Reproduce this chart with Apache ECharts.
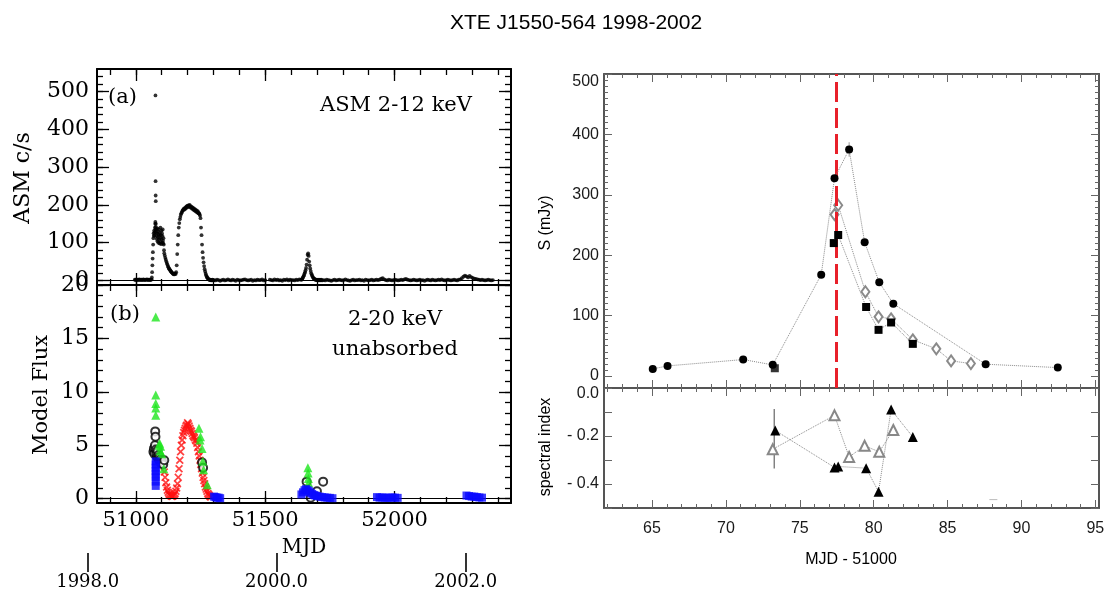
<!DOCTYPE html>
<html><head><meta charset="utf-8">
<script src="https://cdn.jsdelivr.net/npm/echarts@6/dist/echarts.min.js"></script>
<style>html,body{margin:0;padding:0;background:#fff}#c{width:1120px;height:592px}</style>
</head><body><div id="c"></div>
<script>
// ---------------- DATA ----------------
// Panel (a): RXTE/ASM 2-12 keV count rate (c/s) vs MJD
const asmPreStart = 50996, asmPreStep = 3;
const asmPre = [2,1,3,2,1,2,3,1,2,2,1,3,2,1,2,2,3,1,2,2,1,2];
const asmRiseStart = 51061, asmRiseStep = 1;
const asmRise = [3,8,22,40,58,75,95,112,125,118,
  132,120,128,140,150,135,142,128,118,136,
  110,125,138,104,115,130,100,122,135,108,
  118,98,126,112,140,102,120,96,132,110,
  125,100,118,135,105,98,112,95,80,72];
const asmFlareMjd = [51075.5, 51076.0, 51076.4, 51076.7, 51077.0, 51077.4];
const asmFlareVal = [155, 490, 263, 225, 210, 150];
const asmHumpStart = 51112, asmHumpStep = 2;
const asmHump = [66,60,55,50,46,42,38,35,32,30,
  28,26,24,22,21,19,18,17,16,18,
  19,17,22,40,70,95,120,140,152,162,
  168,174,178,181,184,186,188,190,188,192,
  190,194,196,193,198,195,199,196,200,194,
  197,192,195,190,193,188,191,186,189,184,
  187,182,185,180,183,178,178,176,172,165,
  140,120,95,75,60,48,38,30,24,18,
  14,10,8,6,4,3,2,1,2,1,
  0,1,2,1,0];
const asmQuiet1Start = 51302, asmQuiet1Step = 6;
const asmQuiet1 = [1,0,2,1,-1,1,2,0,1,3, 1,0,2,1,-1,2,1,0,1,2, 3,1,0,1,2,-1,1,0,2,1,
  1,3,0,1,null,null,2,1,0,3, 1,2,0,1,-1,2,1,3,0,2, 1,1,0,2,1,3,2];
const asm2000Start = 51640, asm2000Step = 2;
const asm2000 = [2,3,5,8,11,14,18,22,27,33, 42,55,68,72,65,50,40,32,25,19,
  15,12,9,7,5,4,3,2,2,1, 2,1,0,1,2,1,0,1,2,1, 0];
const asmQuiet2Start = 51726, asmQuiet2Step = 6;
const asmQuiet2 = [1,0,2,1,0,-1,1,2,0,1, 2,1,0,1,3,1,0,-1,1,2, 0,1,1,2,0,1,-1,2,1,0,
  1,2,0,1,2,1,2,5,6,3, 1,0,2,1,0,1,2,1,0,1, 2,1,3,4,2,1,0,1,2,1,
  0,1,2,0,1,-1,1,2,1,0, 2,1,0,1,2,1,3,1,0,1, 2,1,0,1,2,1,0,2,3,6,
  10,13,11,8,12,9,7,5,4,3, 2,1,2,1,0,1,2,1,0,1];

// Panel (b): model flux, 2-20 keV unabsorbed
const greenMjd  = [51077,51077,51077,51077,51077, 51090,51092,51094,51096,51100,51108,
  51244,51248,51250,51256,51259,51262,51276, 51665,51666,51667,51668];
const greenFlux = [17.0,9.7,8.9,8.5,7.8, 5.0,5.2,4.5,4.9,4.2,2.8,
  6.6,5.5,5.8,4.7,3.5,2.7,1.3, 2.9,2.4,1.9,1.5];
const circMjd  = [51068,51070,51072,51074,51075,51076,51078,51080,51082,51084,51086,51088,51090,
  51092,51094,51096,51098,51100,51103,51106,51110, 51256,51260, 51660,51676,51700,51724];
const circFlux = [4.4,4.7,4.2,5.0,6.3,5.8,4.6,4.2,3.9,4.5,3.8,4.1,3.6,
  3.9,3.5,3.7,3.3,3.6,3.4,3.2,3.6, 3.4,2.9, 1.6,0.1,0.7,1.6];
const redStart = 51110, redStep = 3;
const redFlux = [2.5,2.0,1.5,1.1,0.8,0.6,0.45,0.35,0.3,0.25,
  0.2,0.25,0.3,0.4,0.5,0.7,1.0,1.4,2.0,2.8,
  3.6,4.4,5.0,5.5,5.9,6.2,6.4,6.6,6.8,6.9,
  7.1,7.0,6.8,6.6,6.4,6.3,6.1,5.9,5.8,5.7,
  5.5,5.4,5.2,4.8,4.4,4.0,3.6,3.2,2.8,2.4,
  2.0,1.7,1.4,1.1,0.9,0.7,0.5,0.4,0.3,0.2,0.15];
const blueMjd  = [51077,51077,51077,51077,51077,51077,51077,51077,
  51302,51308,51314,51320,51326,
  51640,51646,51652,51658,51664,51670,51676,51682,51688,51694,51700,51710,51720,51730,51740,51750,51760,
  51932,51942,51952,51962,51972,51982,51992,52002,52012,
  52278,52288,52298,52308,52318,52328,52338];
const blueFlux = [3.5,3.2,2.9,2.6,2.3,2.0,1.6,1.2,
  0.2,0.15,0.1,0.1,0.05,
  0.4,0.6,0.8,0.9,0.8,0.7,0.55,0.45,0.35,0.3,0.25,0.2,0.15,0.12,0.1,0.08,0.05,
  0.15,0.1,0.12,0.1,0.08,0.1,0.12,0.1,0.08,
  0.3,0.25,0.2,0.2,0.15,0.12,0.1];

// Year axis
const yearMjd = [50814, 51544, 52275];
const yearLabels = ['1998.0', '2000.0', '2002.0'];
const mjdTickLabels = [51000, 51500, 52000];

// Right: radio flux density S (mJy) vs MJD-51000
const circX = [65.05,66.05,71.17,73.17,76.45,77.35,78.34,79.39,80.38,81.33,87.58,92.46];
const circS = [11.6,16.6,27.1,18.3,167.6,327.5,375,221.3,155,119.5,19.4,13.8];
const sqLoneX = [73.31], sqLoneS = [12.7];
const sqX = [77.3,77.6,79.49,80.33,81.18,82.65];
const sqS = [220,233.4,114.1,76.3,88.5,53.1];
const diaX = [77.35,77.6,79.44,80.33,81.18,82.65,84.24,85.24,86.58];
const diaS = [267.2,282.7,139.4,97.9,94.6,59.8,44.8,24.9,20.5];
const peakErrX = [78.34,78.34], peakErrS = [363,387];
const flareLineX = 77.5;
// Right bottom: spectral index
const triFX = [73.34,77.35,77.6,79.49,80.33,81.18,82.65];
const triFY = [-0.177,-0.331,-0.327,-0.334,-0.432,-0.090,-0.204];
const triOX = [73.17,77.35,78.34,79.39,80.38,81.33];
const triOY = [-0.255,-0.114,-0.287,-0.241,-0.266,-0.175];
const idxErrX = [73.27,73.27], idxErrY = [-0.087,-0.335];
const dashX = [88.1], dashY = [-0.465];

// ---------------- helpers ----------------
function seq(start, step, vals){ const r=[]; vals.forEach((v,i)=>{ if(v!==null) r.push([start+i*step, v]); }); return r; }
function pairs(xs, ys){ return xs.map((x,i)=>[x, ys[i]]); }
function range(a,b,s){ const r=[]; for(let k=0; a+k*s<=b+1e-9; k++) r.push(+(a+k*s).toFixed(6)); return r; }

const SERIF = '"DejaVu Serif", "Liberation Serif", serif';
const SANS = '"Liberation Sans", Arial, sans-serif';

const xAxes = [], yAxes = [];
function addSet(arr, dim, gi, min, max, majors, minors, st, label){
  const idx = arr.length;
  const pos = dim === 'x' ? ['bottom','top'] : ['left','right'];
  pos.forEach((p, pi) => {
    [true,false].forEach(isMajor => {
      const vals = isMajor ? majors : minors;
      const lab = (pi===0 && isMajor && label) ? Object.assign({show:true}, label) : {show:false};
      arr.push({
        type:'value', gridIndex:gi, position:p, min:min, max:max, scale:true,
        axisLine:{show:isMajor, onZero:false, lineStyle:{color:st.lineColor, width:st.lineWidth}},
        axisTick:{show: vals.length>0, inside:true, length: isMajor?st.majorLen:st.minorLen,
          customValues: vals, lineStyle:{color:st.tickColor, width:st.tickWidth}},
        axisLabel: lab,
        splitLine:{show:false}, minorTick:{show:false}, axisPointer:{show:false}
      });
    });
  });
  return idx;
}

const leftSt = {lineColor:'#000', lineWidth:2, tickColor:'#000', tickWidth:1.3, majorLen:12, minorLen:6};
const rightSt = {lineColor:'#555', lineWidth:2, tickColor:'#666', tickWidth:1, majorLen:8, minorLen:4};

const grids = [
  {left:97, top:69, width:414, height:216},
  {left:97, top:285, width:414, height:218},
  {left:45.25, top:540, width:465.75, height:13},
  {left:604, top:74, width:495, height:314},
  {left:604, top:388, width:495, height:120}
].map(g => Object.assign({outerBoundsMode:'none', containLabel:false}, g));

const MJD_MIN = 50850, MJD_MAX = 52450;
const mjdMinor = range(50900, 52400, 100);
const plain = v => String(v);
const leftLab = {fontFamily:SERIF, fontSize:22, color:'#000', margin:8, formatter:plain};

// (a)
const axAx = addSet(xAxes,'x',0,MJD_MIN,MJD_MAX,mjdTickLabels,mjdMinor,leftSt,null);
const axAy = addSet(yAxes,'y',0,-12,560,range(0,500,100),range(0,540,20),leftSt,
  Object.assign({customValues:range(0,500,100)}, leftLab));
// (b)
const axBx = addSet(xAxes,'x',1,MJD_MIN,MJD_MAX,mjdTickLabels,mjdMinor,leftSt,
  {customValues:mjdTickLabels, fontFamily:SERIF, fontSize:21, color:'#000', margin:7, formatter:plain});
const axBy = addSet(yAxes,'y',1,-0.4,20,[0,5,10,15,20],range(0,20,1),leftSt,
  Object.assign({customValues:[0,5,10,15,20]}, leftLab));
// year axis
xAxes.push({type:'value', gridIndex:2, position:'bottom', min:50650, max:MJD_MAX,
  axisLine:{show:false, onZero:false},
  axisTick:{show:true, inside:false, length:19, customValues:yearMjd, lineStyle:{color:'#000', width:1.6}},
  axisLabel:{show:true, customValues:yearMjd, margin:20, fontFamily:SERIF, fontSize:18, color:'#000',
    formatter: v => yearLabels[yearMjd.indexOf(v)] || ''},
  splitLine:{show:false}});
yAxes.push({type:'value', gridIndex:2, min:0, max:1, show:false});

// right top
const xMinR = 61.75, xMaxR = 95.25;
const axRx = addSet(xAxes,'x',3,xMinR,xMaxR,range(65,95,5),range(62,95,1),rightSt,null);
const axRy = addSet(yAxes,'y',3,-20,500,range(0,500,100),range(0,500,10),rightSt,
  {customValues:range(0,500,100), fontFamily:SANS, fontSize:16, color:'#1a1a1a', margin:5,
   formatter: v => v===500 ? '{t|500}' : String(v),
   rich:{t:{fontFamily:SANS, fontSize:16, color:'#1a1a1a', padding:[16,0,0,0]}}});
// right bottom
const axSx = addSet(xAxes,'x',4,xMinR,xMaxR,range(65,95,5),range(62,95,1),rightSt,
  {customValues:range(65,95,5), fontFamily:SANS, fontSize:16, color:'#1a1a1a', margin:13});
const axSy = addSet(yAxes,'y',4,-0.5,0,range(-0.5,0,0.1),[],rightSt,
  {customValues:[0,-0.2,-0.4], fontFamily:SANS, fontSize:16, color:'#1a1a1a', margin:5,
   formatter: v => Math.abs(v)<1e-9 ? '{t|0.0}' : '- ' + Math.abs(v).toFixed(1),
   rich:{t:{fontFamily:SANS, fontSize:16, color:'#1a1a1a', padding:[12,0,0,0]}}});

// ---------------- series ----------------
const asmData = [].concat(
  seq(asmPreStart, asmPreStep, asmPre),
  seq(asmRiseStart, asmRiseStep, asmRise),
  pairs(asmFlareMjd, asmFlareVal),
  seq(asmHumpStart, asmHumpStep, asmHump),
  seq(asmQuiet1Start, asmQuiet1Step, asmQuiet1),
  seq(asm2000Start, asm2000Step, asm2000),
  seq(asmQuiet2Start, asmQuiet2Step, asmQuiet2)
);
const zeroLine = {silent:true, symbol:'none', label:{show:false}, animation:false,
  lineStyle:{color:'#000', width:1.2, type:'solid'}, data:[{yAxis:0}]};
const X_PATH = 'path://M0,1.5L1.5,0L5,3.5L8.5,0L10,1.5L6.5,5L10,8.5L8.5,10L5,6.5L1.5,10L0,8.5L3.5,5Z';
const dotted = {color:'#8a8a8a', width:1, type:'dotted'};

const series = [
  {type:'scatter', xAxisIndex:axAx, yAxisIndex:axAy, data:asmData, symbol:'circle', symbolSize:3.8,
   itemStyle:{color:'#000'}, markLine:zeroLine, z:3},
  {type:'scatter', xAxisIndex:axBx, yAxisIndex:axBy, data:seq(redStart, redStep, redFlux), symbol:X_PATH,
   symbolSize:8, itemStyle:{color:'#ff1010'}, markLine:zeroLine, z:3},
  {type:'scatter', xAxisIndex:axBx, yAxisIndex:axBy, data:pairs(circMjd, circFlux), symbol:'emptyCircle',
   symbolSize:8, itemStyle:{color:'#000', borderWidth:1.3}, z:4},
  {type:'scatter', xAxisIndex:axBx, yAxisIndex:axBy, data:pairs(greenMjd, greenFlux), symbol:'triangle',
   symbolSize:9, itemStyle:{color:'#1ee61e'}, z:5},
  {type:'scatter', xAxisIndex:axBx, yAxisIndex:axBy, data:pairs(blueMjd, blueFlux), symbol:'rect',
   symbolSize:8, itemStyle:{color:'#0a0aff'}, z:6},
  // right top
  {type:'line', xAxisIndex:axRx, yAxisIndex:axRy, data:pairs(circX, circS), symbol:'circle', symbolSize:8,
   itemStyle:{color:'#000'}, lineStyle:dotted, z:5,
   markLine:{silent:true, symbol:'none', label:{show:false}, animation:false,
     lineStyle:{color:'#e8202a', width:3, type:[20,6]}, data:[{xAxis:flareLineX}]}},
  {type:'line', xAxisIndex:axRx, yAxisIndex:axRy, data:pairs(diaX, diaS), symbol:'emptyDiamond',
   symbolSize:[8,11], itemStyle:{color:'#8a8a8a', borderWidth:1.2}, lineStyle:dotted, z:4},
  {type:'line', xAxisIndex:axRx, yAxisIndex:axRy, data:pairs(sqX, sqS), symbol:'rect', symbolSize:8,
   itemStyle:{color:'#000'}, lineStyle:dotted, z:5},
  {type:'scatter', xAxisIndex:axRx, yAxisIndex:axRy, data:pairs(sqLoneX, sqLoneS), symbol:'rect', symbolSize:8,
   itemStyle:{color:'#000'}, z:5},
  {type:'line', xAxisIndex:axRx, yAxisIndex:axRy, data:pairs(peakErrX, peakErrS), symbol:'none',
   lineStyle:{color:'#999', width:1}, z:3},
  // right bottom
  {type:'line', xAxisIndex:axSx, yAxisIndex:axSy, data:pairs(idxErrX, idxErrY), symbol:'none',
   lineStyle:{color:'#666', width:1.2}, z:3},
  {type:'line', xAxisIndex:axSx, yAxisIndex:axSy, data:pairs(triOX, triOY), symbol:'emptyTriangle',
   symbolSize:10, itemStyle:{color:'#888', borderWidth:1.2}, lineStyle:dotted, z:4},
  {type:'line', xAxisIndex:axSx, yAxisIndex:axSy, data:pairs(triFX, triFY), symbol:'triangle',
   symbolSize:10, itemStyle:{color:'#000'}, lineStyle:dotted, z:5},
  {type:'scatter', xAxisIndex:axSx, yAxisIndex:axSy, data:pairs(dashX, dashY), symbol:'rect',
   symbolSize:[8,1], itemStyle:{color:'#aaa'}, z:3}
];

function txt(text, x, y, font, opts){
  return Object.assign({type:'text', x:x, y:y, silent:true,
    style:{text:text, font:font, fill:'#000', align:(opts&&opts.align)||'center', verticalAlign:'middle'}},
    opts && opts.rotation ? {rotation:opts.rotation} : {});
}
const serifF = '21px "DejaVu Serif", serif';
const sansF = '16px "Liberation Sans", Arial, sans-serif';
const graphic = [
  txt('XTE J1550-564 1998-2002', 576, 23, '21px "Liberation Sans", Arial, sans-serif'),
  txt('(a)', 108, 98, serifF, {align:'left'}),
  txt('ASM 2-12 keV', 396, 106, serifF),
  txt('(b)', 110, 315, serifF, {align:'left'}),
  txt('2-20 keV', 395, 320, serifF),
  txt('unabsorbed', 395, 350, serifF),
  txt('ASM c/s', 23, 178, '22px "DejaVu Serif", serif', {rotation:Math.PI/2}),
  txt('Model Flux', 42, 395, '21px "DejaVu Serif", serif', {rotation:Math.PI/2}),
  txt('MJD', 304, 548, '20px "DejaVu Serif", serif'),
  txt('S (mJy)', 546, 223, sansF, {rotation:Math.PI/2}),
  txt('spectral index', 546, 447, sansF, {rotation:Math.PI/2}),
  txt('MJD - 51000', 851, 560, sansF)
];

const chart = echarts.init(document.getElementById('c'), null, {renderer:'canvas'});
chart.setOption({
  animation:false,
  backgroundColor:'#fff',
  grid:grids, xAxis:xAxes, yAxis:yAxes, series:series, graphic:graphic
});
</script></body></html>
